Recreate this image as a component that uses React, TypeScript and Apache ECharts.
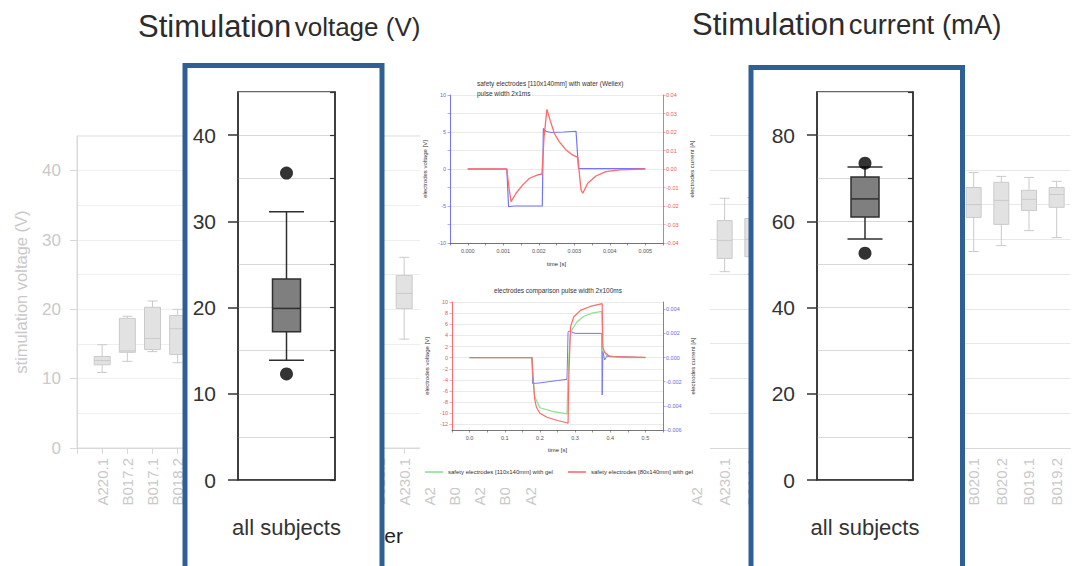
import { useEffect, useRef } from 'react';
import * as echarts from 'echarts';

const FONT = 'Liberation Sans, Arial, sans-serif';

// ---------- faded background chart: stimulation voltage per subject ----------
const bgVoltCategories = ['', 'A220.1', 'B017.2', 'B017.1', 'B018.2', 'B018.1', 'A221.1', 'A221.2', 'B016.1', 'A222.1', 'B015.2', 'A223.1', 'B015.1', 'A230.1', 'A229.1', 'B016.2', 'A228.1', 'B019.3', 'A227.1'];
// [categoryIndex, min, q1, median, q3, max]
const bgVoltBoxes = [
  [1, 10.9, 12.0, 12.6, 13.2, 14.9],
  [2, 12.5, 13.8, 14.0, 18.7, 19.0],
  [3, 13.9, 14.2, 15.8, 20.3, 21.2],
  [4, 12.3, 13.5, 17.2, 19.1, 20.0],
  [13, 15.7, 20.1, 22.3, 24.9, 27.5],
];
const bgVoltTicks = [0, 10, 20, 30, 40];

// ---------- faded background chart: stimulation current per subject ----------
const bgCurrCategories = ['', '', '', '', '', 'A228.2', 'A230.1', 'B014.1', 'B014.2', 'A224.1', 'A224.2', 'B013.1', 'B013.2', 'A225.1', 'B021.1', 'B020.1', 'B020.2', 'B019.1', 'B019.2'];
const bgCurrBoxes = [
  [6, 50.7, 54.5, 59.7, 65.4, 71.8],
  [7, 50.0, 55.0, 60.0, 66.0, 72.0],
  [15, 56.5, 66.3, 70.0, 74.9, 79.2],
  [16, 58.2, 64.3, 71.2, 76.4, 78.1],
  [17, 62.5, 68.3, 71.5, 74.1, 77.8],
  [18, 60.5, 69.2, 72.9, 74.9, 76.7],
];

// ---------- middle top: pulse width 2x1ms ----------
const topVoltage = [
  [0, 0], [0.0011, 0], [0.00115, -5.1], [0.0013, -5.0], [0.0021, -5.0], [0.00213, 5.47], [0.0022, 5.1],
  [0.00235, 4.93], [0.0027, 5.0], [0.00305, 5.1], [0.00312, 0.05], [0.004, 0.05], [0.005, 0.05],
];
const topCurrent = [
  [0, 0], [0.0011, 0], [0.00116, -0.01], [0.00122, -0.0176], [0.00136, -0.0131], [0.00155, -0.0086],
  [0.00174, -0.005], [0.00197, -0.0032], [0.00209, -0.0027], [0.00215, 0.0174], [0.00223, 0.0322],
  [0.00232, 0.0264], [0.00244, 0.0192], [0.00258, 0.0147], [0.00277, 0.0103], [0.00295, 0.0076],
  [0.0031, 0.0063], [0.00319, -0.0113], [0.00324, -0.0131], [0.00338, -0.0077], [0.00361, -0.0038],
  [0.00389, -0.0014], [0.00427, -0.0005], [0.005, 0],
];
const topTimeLabels = [0, 0.001, 0.002, 0.003, 0.004, 0.005];

// ---------- middle bottom: electrodes comparison 2x100ms ----------
const botGreen = [
  [0, 0], [0.177, 0], [0.181, -4], [0.185, -7], [0.2, -9.0], [0.238, -9.7], [0.277, -10.1], [0.28, -3],
  [0.285, 3.1], [0.29, 4.9], [0.305, 6.4], [0.324, 7.4], [0.348, 8.0], [0.376, 8.3], [0.379, 1.3],
  [0.39, 0.4], [0.43, 0], [0.5, 0],
];
const botRed = [
  [0, 0], [0.177, 0], [0.18, -3], [0.185, -7.4], [0.19, -8.9], [0.2, -10], [0.22, -10.7], [0.25, -11.3],
  [0.277, -11.7], [0.28, -11.8], [0.282, -4], [0.287, 5.5], [0.296, 7.3], [0.315, 8.5], [0.343, 9.2],
  [0.377, 9.7], [0.379, 1.9], [0.384, 1.0], [0.398, 0.2], [0.5, 0.05],
];
const botBlue = [
  [0, 0], [0.178, 0], [0.179, -0.00215], [0.2, -0.0021], [0.25, -0.0019], [0.277, -0.0018], [0.28, 0.0021],
  [0.283, 0.0022], [0.3, 0.002], [0.376, 0.002], [0.377, -0.0031], [0.379, 0.0005], [0.384, -0.0002],
  [0.39, 0.0001], [0.5, 0],
];
const botTimeLabels = [0, 0.1, 0.2, 0.3, 0.4, 0.5];
const botVoltTicks = [-12, -10, -8, -6, -4, -2, 0, 2, 4, 6, 8, 10];
const botCurrTicks = [-0.006, -0.004, -0.002, 0, 0.002, 0.004];

// ---------- highlighted charts ----------
const fgCategory = ['all subjects'];
const voltBox = [[0, 13.9, 17.2, 19.9, 23.3, 31.1]];
const voltOutliers = [[0, 35.6], [0, 12.3]];
const voltTicks = [0, 10, 20, 30, 40];
const currBox = [[0, 55.9, 61.0, 65.2, 70.3, 72.6]];
const currOutliers = [[0, 73.5], [0, 52.6]];
const currTicks = [0, 20, 40, 60, 80];

const BLUE = '#7474ff';
const RED = '#ff6a6a';
const GREEN = '#8de28d';
const FRAME = '#2e6096';

function boxRenderer(boxW: number, capW: number, fill: string, stroke: string, lw: number) {
  return (params: any, api: any) => {
    const x = api.value(0);
    const pLo = api.coord([x, api.value(1)]);
    const pQ1 = api.coord([x, api.value(2)]);
    const pMd = api.coord([x, api.value(3)]);
    const pQ3 = api.coord([x, api.value(4)]);
    const pHi = api.coord([x, api.value(5)]);
    const cx = pLo[0];
    const ls = { stroke, lineWidth: lw };
    return {
      type: 'group',
      children: [
        { type: 'line', shape: { x1: cx, y1: pHi[1], x2: cx, y2: pQ3[1] }, style: ls },
        { type: 'line', shape: { x1: cx, y1: pQ1[1], x2: cx, y2: pLo[1] }, style: ls },
        { type: 'line', shape: { x1: cx - capW / 2, y1: pHi[1], x2: cx + capW / 2, y2: pHi[1] }, style: ls },
        { type: 'line', shape: { x1: cx - capW / 2, y1: pLo[1], x2: cx + capW / 2, y2: pLo[1] }, style: ls },
        { type: 'rect', shape: { x: cx - boxW / 2, y: pQ3[1], width: boxW, height: pQ1[1] - pQ3[1] }, style: { fill, stroke, lineWidth: lw } },
        { type: 'line', shape: { x1: cx - boxW / 2, y1: pMd[1], x2: cx + boxW / 2, y2: pMd[1] }, style: ls },
      ],
    };
  };
}

const BG_LABEL = '#c9c9c9';
const BG_LINE = '#d9d9d9';

function buildOption(): any {
  const smallText = { fontSize: 5.5, color: '#555', fontFamily: FONT };
  return {
    animation: false,
    textStyle: { fontFamily: FONT },
    grid: [
      { left: 77, top: 136, width: 453, height: 312, show: true, borderColor: BG_LINE, borderWidth: 1, z: 0 },
      { left: 544.8, top: 135, width: 525.7, height: 313, z: 0 },
      { left: 450, top: 95, width: 213, height: 148, z: 10 },
      { left: 452, top: 302, width: 211, height: 128, z: 10 },
      { left: 238, top: 92, width: 97, height: 388, show: true, borderColor: '#333', borderWidth: 1.5, z: 10 },
      { left: 817, top: 92, width: 96, height: 388, show: true, borderColor: '#333', borderWidth: 1.5, z: 10 },
    ],
    xAxis: [
      {
        type: 'category', gridIndex: 0, data: bgVoltCategories, boundaryGap: false, z: 1,
        axisLine: { lineStyle: { color: BG_LINE } },
        axisTick: { length: 6, lineStyle: { color: BG_LINE } },
        axisLabel: { rotate: 90, fontSize: 15, color: BG_LABEL, margin: 10, interval: 0 },
      },
      {
        type: 'category', gridIndex: 1, data: bgCurrCategories, boundaryGap: true, z: 1,
        axisLine: { lineStyle: { color: BG_LINE } },
        axisTick: { length: 6, alignWithLabel: true, interval: 0, lineStyle: { color: BG_LINE } },
        axisLabel: { rotate: 90, fontSize: 15, color: BG_LABEL, margin: 10, interval: 0 },
      },
      {
        type: 'value', gridIndex: 2, min: -0.0005, max: 0.0055, interval: 0.0005, z: 10,
        axisLine: { onZero: false, lineStyle: { color: '#555', width: 0.8 } },
        axisTick: { length: 2.5, lineStyle: { color: '#555', width: 0.6 } },
        axisLabel: { ...smallText, customValues: topTimeLabels, margin: 5, formatter: (v: number) => v.toFixed(3) },
        splitLine: { show: false },
        name: 'time [s]', nameLocation: 'middle', nameGap: 18, nameTextStyle: { fontSize: 6, color: '#333' },
      },
      {
        type: 'value', gridIndex: 3, min: -0.05, max: 0.55, interval: 0.05, z: 10,
        axisLine: { onZero: false, lineStyle: { color: '#555', width: 0.8 } },
        axisTick: { length: 2.5, lineStyle: { color: '#555', width: 0.6 } },
        axisLabel: { ...smallText, customValues: botTimeLabels, margin: 5, formatter: (v: number) => v.toFixed(1) },
        splitLine: { show: false },
        name: 'time [s]', nameLocation: 'middle', nameGap: 17, nameTextStyle: { fontSize: 6, color: '#333' },
      },
      {
        type: 'category', gridIndex: 4, data: fgCategory, z: 10,
        axisLine: { lineStyle: { color: '#333', width: 1.5 } },
        axisTick: { show: false },
        axisLabel: { fontSize: 22, color: '#333', margin: 36 },
      },
      {
        type: 'category', gridIndex: 5, data: fgCategory, z: 10,
        axisLine: { lineStyle: { color: '#333', width: 1.5 } },
        axisTick: { show: false },
        axisLabel: { fontSize: 22, color: '#333', margin: 36 },
      },
    ],
    yAxis: [
      {
        type: 'value', gridIndex: 0, min: 0, max: 45, z: 1,
        axisLine: { show: true, onZero: false, lineStyle: { color: BG_LINE } },
        axisTick: { show: true, length: 7, customValues: bgVoltTicks, lineStyle: { color: BG_LINE } },
        axisLabel: { customValues: bgVoltTicks, fontSize: 17, color: BG_LABEL, margin: 16 },
        splitLine: { show: false },
        name: 'stimulation voltage (V)', nameLocation: 'middle', nameGap: 48,
        nameTextStyle: { fontSize: 16.5, color: BG_LABEL },
      },
      {
        type: 'value', gridIndex: 0, min: 0, max: 45, interval: 5, z: 1,
        axisLine: { show: false }, axisTick: { show: false }, axisLabel: { show: false },
        splitLine: { lineStyle: { color: '#efefef' } },
      },
      {
        type: 'value', gridIndex: 1, min: 0, max: 90, interval: 10, z: 1,
        axisLine: { show: false }, axisTick: { show: false }, axisLabel: { show: false },
        splitLine: { lineStyle: { color: '#e8e8e8' } },
      },
      {
        type: 'value', gridIndex: 2, min: -10, max: 10, interval: 2.5, z: 10,
        axisLine: { show: true, onZero: false, lineStyle: { color: BLUE, width: 1 } },
        axisTick: { show: true, length: 2.5, lineStyle: { color: BLUE, width: 0.6 } },
        axisLabel: { fontSize: 5.5, color: '#6a6ad8', margin: 4, formatter: (v: number) => (v % 5 === 0 ? String(v) : '') },
        splitLine: { lineStyle: { color: '#e4e4e4', width: 0.8 } },
        name: 'electrodes voltage [V]', nameLocation: 'middle', nameGap: 22, nameTextStyle: { fontSize: 6, color: '#333' },
      },
      {
        type: 'value', gridIndex: 2, position: 'right', min: -0.04, max: 0.04, interval: 0.01, z: 10,
        axisLine: { show: true, onZero: false, lineStyle: { color: RED, width: 1 } },
        axisTick: { show: true, length: 2.5, lineStyle: { color: RED, width: 0.6 } },
        axisLabel: { fontSize: 5.5, color: '#e05a5a', margin: 3, formatter: (v: number) => v.toFixed(2) },
        splitLine: { show: false },
        name: 'electrodes current [A]', nameLocation: 'middle', nameGap: 26, nameTextStyle: { fontSize: 6, color: '#333' },
      },
      {
        type: 'value', gridIndex: 3, min: -13, max: 10, z: 10,
        axisLine: { show: true, onZero: false, lineStyle: { color: RED, width: 1 } },
        axisTick: { show: true, length: 2.5, customValues: botVoltTicks, lineStyle: { color: RED, width: 0.6 } },
        axisLabel: { fontSize: 5.5, color: '#e05a5a', margin: 4, customValues: botVoltTicks },
        splitLine: { show: true, lineStyle: { color: '#e4e4e4', width: 0.8 } },
        name: 'electrodes voltage [V]', nameLocation: 'middle', nameGap: 22, nameTextStyle: { fontSize: 6, color: '#333' },
      },
      {
        type: 'value', gridIndex: 3, position: 'right', min: -0.006, max: 0.0046, z: 10,
        axisLine: { show: true, onZero: false, lineStyle: { color: BLUE, width: 1 } },
        axisTick: { show: true, length: 2.5, customValues: botCurrTicks, lineStyle: { color: BLUE, width: 0.6 } },
        axisLabel: { fontSize: 5.5, color: '#6a6ad8', margin: 3, customValues: botCurrTicks, formatter: (v: number) => v.toFixed(3) },
        splitLine: { show: false },
        name: 'electrodes current [A]', nameLocation: 'middle', nameGap: 27, nameTextStyle: { fontSize: 6, color: '#333' },
      },
      {
        type: 'value', gridIndex: 4, min: 0, max: 45, z: 10,
        axisLine: { show: true, onZero: false, lineStyle: { color: '#333', width: 1.5 } },
        axisTick: { show: true, length: 10, customValues: voltTicks, lineStyle: { color: '#333', width: 1.5 } },
        axisLabel: { customValues: voltTicks, fontSize: 21, color: '#333', margin: 22 },
        splitLine: { show: false },
      },
      {
        type: 'value', gridIndex: 4, position: 'right', min: 0, max: 45, interval: 5, z: 10,
        axisLine: { show: true, onZero: false, lineStyle: { color: '#333', width: 1.5 } },
        axisTick: { show: true, inside: true, length: 5, lineStyle: { color: '#333', width: 1.2 } },
        axisLabel: { show: false },
        splitLine: { show: true, lineStyle: { color: '#d9d9d9', width: 1 } },
      },
      {
        type: 'value', gridIndex: 5, min: 0, max: 90, z: 10,
        axisLine: { show: true, onZero: false, lineStyle: { color: '#333', width: 1.5 } },
        axisTick: { show: true, length: 10, customValues: currTicks, lineStyle: { color: '#333', width: 1.5 } },
        axisLabel: { customValues: currTicks, fontSize: 21, color: '#333', margin: 22 },
        splitLine: { show: false },
      },
      {
        type: 'value', gridIndex: 5, position: 'right', min: 0, max: 90, interval: 10, z: 10,
        axisLine: { show: true, onZero: false, lineStyle: { color: '#333', width: 1.5 } },
        axisTick: { show: true, inside: true, length: 5, lineStyle: { color: '#333', width: 1.2 } },
        axisLabel: { show: false },
        splitLine: { show: true, lineStyle: { color: '#d9d9d9', width: 1 } },
      },
    ],
    legend: {
      data: ['safety electrodes [110x140mm] with gel', 'safety electrodes [80x140mm] with gel'],
      left: 420, top: 464, itemWidth: 18, itemHeight: 1.6, itemGap: 15, icon: 'rect', z: 12,
      textStyle: { fontSize: 6, color: '#333' },
    },
    series: [
      {
        type: 'custom', name: 'bgVolt', xAxisIndex: 0, yAxisIndex: 0, z: 2,
        renderItem: boxRenderer(16, 10, '#e2e2e2', '#cacaca', 1), data: bgVoltBoxes,
        encode: { x: 0, y: [1, 2, 3, 4, 5] },
      },
      {
        type: 'custom', name: 'bgCurr', xAxisIndex: 1, yAxisIndex: 2, z: 2,
        renderItem: boxRenderer(15, 10, '#e2e2e2', '#cacaca', 1), data: bgCurrBoxes,
        encode: { x: 0, y: [1, 2, 3, 4, 5] },
      },
      {
        type: 'line', name: 'electrodes voltage', xAxisIndex: 2, yAxisIndex: 3, data: topVoltage, z: 12,
        showSymbol: false, symbol: 'none', lineStyle: { color: BLUE, width: 1.2 }, itemStyle: { color: BLUE },
      },
      {
        type: 'line', name: 'electrodes current', xAxisIndex: 2, yAxisIndex: 4, data: topCurrent, z: 12,
        showSymbol: false, symbol: 'none', lineStyle: { color: RED, width: 1.3 }, itemStyle: { color: RED },
      },
      {
        type: 'line', name: 'electrodes current (comparison)', xAxisIndex: 3, yAxisIndex: 6, data: botBlue, z: 12,
        showSymbol: false, symbol: 'none', lineStyle: { color: BLUE, width: 1 }, itemStyle: { color: BLUE },
      },
      {
        type: 'line', name: 'safety electrodes [110x140mm] with gel', xAxisIndex: 3, yAxisIndex: 5, data: botGreen, z: 12,
        showSymbol: false, symbol: 'none', lineStyle: { color: GREEN, width: 1.2 }, itemStyle: { color: GREEN },
      },
      {
        type: 'line', name: 'safety electrodes [80x140mm] with gel', xAxisIndex: 3, yAxisIndex: 5, data: botRed, z: 12,
        showSymbol: false, symbol: 'none', lineStyle: { color: RED, width: 1.2 }, itemStyle: { color: RED },
      },
      {
        type: 'custom', name: 'voltage all subjects', xAxisIndex: 4, yAxisIndex: 7, z: 12,
        renderItem: boxRenderer(28, 35, '#7f7f7f', '#2f2f2f', 1.5), data: voltBox,
        encode: { x: 0, y: [1, 2, 3, 4, 5] },
      },
      {
        type: 'scatter', name: 'voltage outliers', xAxisIndex: 4, yAxisIndex: 7, z: 13,
        data: voltOutliers, symbolSize: 13, itemStyle: { color: '#000' },
      },
      {
        type: 'custom', name: 'current all subjects', xAxisIndex: 5, yAxisIndex: 9, z: 12,
        renderItem: boxRenderer(28, 35, '#7f7f7f', '#2f2f2f', 1.5), data: currBox,
        encode: { x: 0, y: [1, 2, 3, 4, 5] },
      },
      {
        type: 'scatter', name: 'current outliers', xAxisIndex: 5, yAxisIndex: 9, z: 13,
        data: currOutliers, symbolSize: 13, itemStyle: { color: '#000' },
      },
    ],
    graphic: [
      { type: 'text', z: 3, style: { text: 'subject number', x: 403, y: 535, align: 'right', verticalAlign: 'middle', fontSize: 21, fill: '#222', fontFamily: FONT } },
      { type: 'rect', z: 5, shape: { x: 420, y: 70, width: 290, height: 418 }, style: { fill: '#ffffff' } },
      { type: 'rect', z: 5, shape: { x: 185, y: 65.5, width: 197, height: 520 }, style: { fill: '#ffffff', stroke: FRAME, lineWidth: 5 } },
      { type: 'rect', z: 5, shape: { x: 751, y: 67.5, width: 211.5, height: 520 }, style: { fill: '#ffffff', stroke: FRAME, lineWidth: 5 } },
      { type: 'text', z: 12, style: { text: 'safety electrodes [110x140mm] with water (Wellex)', x: 477, y: 83, verticalAlign: 'middle', fontSize: 6.5, fill: '#333', fontFamily: FONT } },
      { type: 'text', z: 12, style: { text: 'pulse width 2x1ms', x: 477, y: 93, verticalAlign: 'middle', fontSize: 6.5, fill: '#333', fontFamily: FONT } },
      { type: 'text', z: 12, style: { text: 'electrodes comparison pulse width 2x100ms', x: 558, y: 290, align: 'center', verticalAlign: 'middle', fontSize: 6.5, fill: '#333', fontFamily: FONT } },
      {
        type: 'text', z: 15,
        style: {
          text: '{a|Stimulation} {b|voltage (V)}', x: 138, y: 42, align: 'left', verticalAlign: 'bottom', fill: '#2c2c2c', fontFamily: FONT,
          rich: { a: { fontSize: 31, fill: '#2c2c2c', fontFamily: FONT }, b: { fontSize: 26, fill: '#2c2c2c', fontFamily: FONT } },
        },
      },
      {
        type: 'text', z: 15,
        style: {
          text: '{a|Stimulation} {b|current (mA)}', x: 692, y: 40, align: 'left', verticalAlign: 'bottom', fill: '#2c2c2c', fontFamily: FONT,
          rich: { a: { fontSize: 31, fill: '#2c2c2c', fontFamily: FONT }, b: { fontSize: 27.5, fill: '#2c2c2c', fontFamily: FONT } },
        },
      },
    ],
  };
}

export default function App() {
  const ref = useRef<HTMLDivElement>(null);
  useEffect(() => {
    if (!ref.current) return;
    const chart = echarts.init(ref.current, undefined, { renderer: 'svg' });
    chart.setOption(buildOption());
    return () => chart.dispose();
  }, []);
  return <div ref={ref} style={{ position: 'absolute', left: 0, top: 0, width: 1079, height: 566, background: '#fff' }} />;
}
